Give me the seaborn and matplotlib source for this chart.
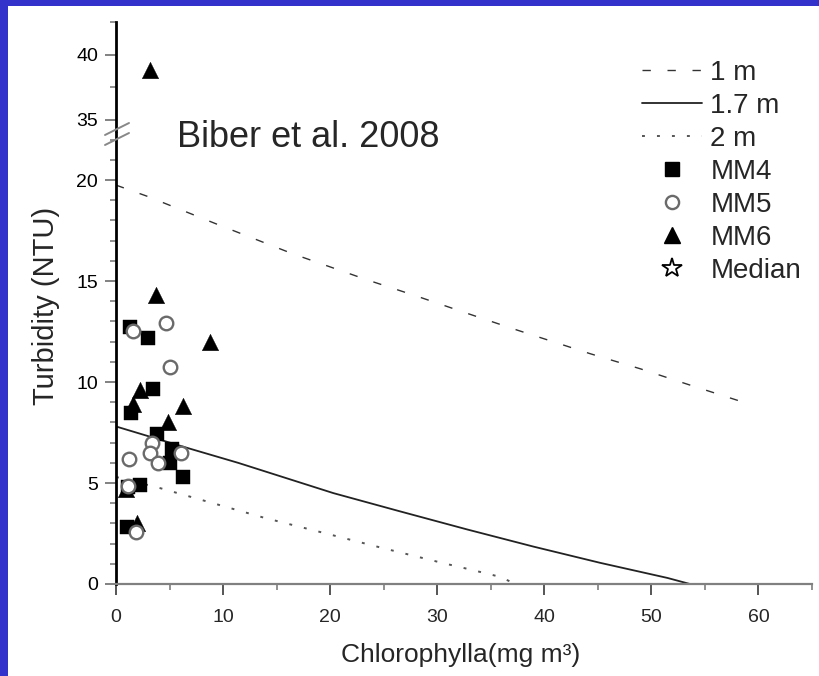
import matplotlib
matplotlib.use("Agg")
import matplotlib.pyplot as plt
from matplotlib.lines import Line2D
from matplotlib.patches import Rectangle
from matplotlib.ticker import MultipleLocator
import seaborn as sns

# Station samples: chlorophyll a (mg m-3) against turbidity (NTU)
mm4_chl = [1.3, 3.0, 3.5, 1.4, 3.8, 5.2, 5.0, 6.3, 1.1, 2.2, 1.0]
mm4_ntu = [12.7, 12.2, 9.65, 8.45, 7.45, 6.7, 6.0, 5.3, 4.8, 4.9, 2.8]
mm5_chl = [1.6, 4.7, 5.0, 1.2, 3.4, 3.2, 3.9, 6.1, 1.9, 1.1]
mm5_ntu = [12.55, 12.9, 10.75, 6.2, 7.0, 6.5, 6.0, 6.5, 2.55, 4.85]
mm6_chl = [3.2, 3.7, 8.8, 2.2, 1.6, 6.3, 4.9, 0.9, 2.0]
mm6_ntu = [38.8, 14.3, 12.0, 9.6, 8.9, 8.8, 8.0, 4.7, 3.0]

# Light-requirement curves for three depths
d1_chl = [0, 2.9, 9.5, 16.5, 23.5, 28.1, 32.8, 37.3, 44.3, 49.0, 53.6, 58.3]
d1_ntu = [19.75, 19.2, 17.8, 16.35, 15.05, 14.25, 13.4, 12.6, 11.4, 10.65, 9.85, 9.05]
d17_chl = [0, 6.9, 11.4, 20.3, 26.5, 32.8, 39.0, 45.2, 51.5, 53.6]
d17_ntu = [7.8, 6.7, 6.0, 4.5, 3.6, 2.7, 1.85, 1.05, 0.3, 0.0]
d2_chl = [0, 4.1, 8.4, 13.9, 19.4, 24.9, 30.5, 33.3, 35.9, 37.3]
d2_ntu = [5.3, 4.75, 4.1, 3.27, 2.53, 1.78, 1.04, 0.69, 0.35, 0.0]

line_labels = ["1 m", "1.7 m", "2 m"]
site_labels = ["MM4", "MM5", "MM6", "Median"]

sns.set_style("ticks")
plt.rcParams["font.family"] = ["Liberation Sans", "DejaVu Sans"]

W, H = 819, 676
fig = plt.figure(figsize=(W / 100, H / 100), dpi=100)
fig.patch.set_facecolor("#3333cc")
fig.add_artist(Rectangle((8 / W, 0), 1, 1 - 6 / H, transform=fig.transFigure,
                         facecolor="white", edgecolor="none", zorder=-5))

# lower (0-22) and upper (34-42.5) panels of the broken y axis
ax = fig.add_axes([116 / W, 92 / H, 696 / W, 451 / H])
axu = fig.add_axes([116 / W, (H - 131.2) / H, 696 / W, 109.2 / H])
for a in (ax, axu):
    a.set_facecolor("none")

line_styles = [(0, (6, 12)), "-", (0, (1.5, 6.2))]
line_widths = [1.0, 1.3, 1.4]
line_colors = ["#333333", "#222222", "#555555"]
for xs, ys, lab, ls, lw, c in zip([d1_chl, d17_chl, d2_chl], [d1_ntu, d17_ntu, d2_ntu],
                                  line_labels, line_styles, line_widths, line_colors):
    sns.lineplot(x=xs, y=ys, ax=ax, color=c, linestyle=ls, linewidth=lw,
                 sort=False, estimator=None, label=lab)

for a in (ax, axu):
    sns.scatterplot(x=mm4_chl, y=mm4_ntu, ax=a, marker="s", s=115, color="black",
                    edgecolor="black", linewidth=0.3, zorder=3)
    sns.scatterplot(x=mm6_chl, y=mm6_ntu, ax=a, marker="^", s=140, color="black",
                    edgecolor="black", linewidth=0.3, zorder=3)
    sns.scatterplot(x=mm5_chl, y=mm5_ntu, ax=a, marker="o", s=95, color="white",
                    edgecolor="#6a6a6a", linewidth=1.7, zorder=4)

line_handles, _ = ax.get_legend_handles_labels()
line_handles = line_handles[:3]
for a in (ax, axu):
    if a.get_legend() is not None:
        a.get_legend().remove()

ax.set_xlim(0, 65)
ax.set_ylim(0, 22.33)
axu.set_xlim(0, 65)
axu.set_ylim(34.1, 42.5)

ax.set_xticks(range(0, 61, 10))
ax.xaxis.set_minor_locator(MultipleLocator(5))
ax.set_yticks([0, 5, 10, 15, 20])
ax.yaxis.set_minor_locator(MultipleLocator(1))
axu.set_yticks([35, 40])
axu.set_yticks([37.5, 42.5], minor=True)
axu.set_xticks([])

for a in (ax, axu):
    a.spines["top"].set_visible(False)
    a.spines["right"].set_visible(False)
    a.spines["left"].set_color("black")
    a.spines["left"].set_linewidth(2.0)
    a.tick_params(axis="y", which="major", length=8, width=1.3, color="#777777",
                  labelsize=14, pad=5, labelcolor="black")
    a.tick_params(axis="y", which="minor", length=4, width=1.3, color="#888888")
    a.set_xlabel("")
    a.set_ylabel("")
axu.spines["bottom"].set_visible(False)
ax.spines["bottom"].set_color("#808080")
ax.spines["bottom"].set_linewidth(1.6)
ax.tick_params(axis="x", which="major", length=8, width=1.4, color="#555555",
               labelsize=14, pad=10)
ax.tick_params(axis="x", which="minor", length=4, width=1.3, color="#888888")

# break marks on the y axis
for y0 in (135, 145):
    fig.add_artist(Line2D([105 / W, 129 / W], [(H - y0) / H, (H - y0 + 12) / H],
                          transform=fig.transFigure, color="#888888", linewidth=1.4))

fig.text(46 / W, 1 - 306 / H, "Turbidity (NTU)", rotation=90, ha="center",
         va="center", fontsize=21)
fig.text(461 / W, 1 - 655 / H, "Chlorophylla(mg m³)", ha="center", va="center",
         fontsize=19)
fig.text(177 / W, 1 - 147 / H, "Biber et al. 2008", ha="left", va="baseline",
         fontsize=26)

marker_handles = [
    Line2D([], [], linestyle="none", marker="s", markersize=10, color="black"),
    Line2D([], [], linestyle="none", marker="o", markersize=9.5, markerfacecolor="white",
           markeredgecolor="#6a6a6a", markeredgewidth=1.7),
    Line2D([], [], linestyle="none", marker="^", markersize=11.5, color="black"),
    Line2D([], [], linestyle="none", marker="*", markersize=15, markerfacecolor="white",
           markeredgecolor="black", markeredgewidth=1.3),
]
fig.legend(line_handles + marker_handles, line_labels + site_labels,
           loc="upper left", bbox_to_anchor=(642 / W, 1 - 60 / H),
           frameon=False, fontsize=20, borderpad=0, borderaxespad=0,
           handlelength=2.16, handletextpad=0.3, labelspacing=0.25)

fig.savefig("out.png", dpi=100, facecolor=fig.get_facecolor())
